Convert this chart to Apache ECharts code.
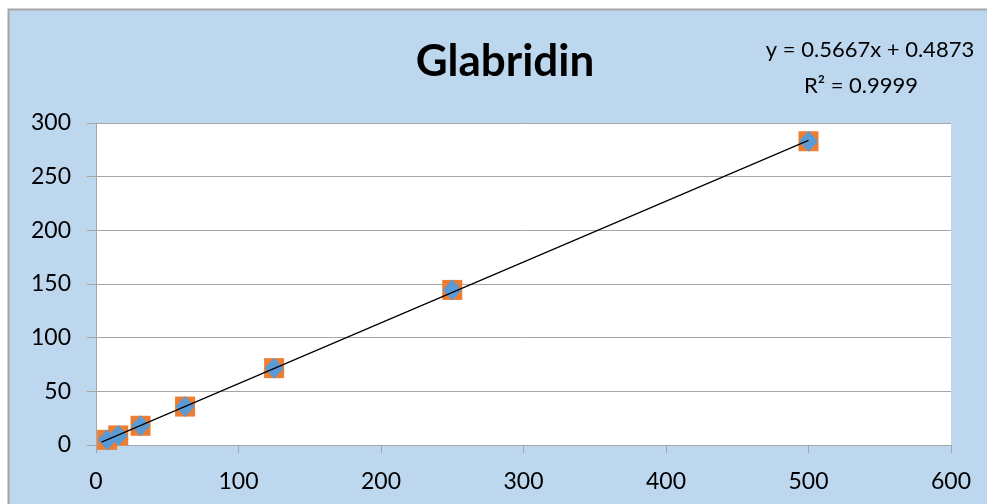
<!DOCTYPE html>
<html>
<head>
<meta charset="utf-8">
<script src="https://cdn.jsdelivr.net/npm/echarts@6/dist/echarts.min.js"></script>
<style>html,body{margin:0;padding:0;background:#fff}#c{width:987px;height:504px}</style>
</head>
<body>
<div id="c"></div>
<script>
const titleText = 'Glabridin';
const equationLines = ['y = 0.5667x + 0.4873', 'R² = 0.9999'];
const concX = [7.8125, 15.625, 31.25, 62.5, 125, 250, 500];
const areaY = [4.8, 8.9, 17.9, 35.8, 71.6, 144.5, 283];
const trendX = [3.9, 500];
const trendY = [2.7, 283.8];
const xTicks = [0, 100, 200, 300, 400, 500, 600];
const yTicks = [0, 50, 100, 150, 200, 250, 300];

const pts = concX.map((x, i) => [x, areaY[i]]);
const trend = trendX.map((x, i) => [x, trendY[i]]);
const FONT = 'Lato';

const chart = echarts.init(document.getElementById('c'), null, {renderer: 'canvas'});
chart.setOption({
  backgroundColor: '#ffffff',
  animation: false,
  textStyle: {fontFamily: FONT},
  graphic: [
    {type: 'rect', z: -10, shape: {x: 8.5, y: 9.5, width: 1100, height: 700},
     style: {fill: '#BDD7EE', stroke: '#A6A6A6', lineWidth: 2}},
    {type: 'text', x: 505, y: 62, z: 10,
     style: {text: titleText, font: 'bold 44px ' + FONT, fill: '#000', align: 'center', verticalAlign: 'middle'}},
    {type: 'text', x: 870, y: 50, z: 10,
     style: {text: equationLines[0], font: '22px ' + FONT, fill: '#000', align: 'center', verticalAlign: 'middle'}},
    {type: 'text', x: 861, y: 86, z: 10,
     style: {text: equationLines[1], font: '22px ' + FONT, fill: '#000', align: 'center', verticalAlign: 'middle'}}
  ],
  grid: {left: 96, right: 36, top: 123, bottom: 59, show: true, backgroundColor: '#ffffff', borderWidth: 0},
  xAxis: {
    type: 'value', min: xTicks[0], max: xTicks[xTicks.length - 1], interval: 100,
    axisLine: {show: true, lineStyle: {color: '#A6A6A6', width: 1}},
    axisTick: {show: true, length: 8, lineStyle: {color: '#A6A6A6'}},
    axisLabel: {margin: 25, fontSize: 23, color: '#000', fontFamily: FONT},
    splitLine: {show: false}
  },
  yAxis: {
    type: 'value', min: yTicks[0], max: yTicks[yTicks.length - 1], interval: 50,
    axisLine: {show: true, lineStyle: {color: '#A6A6A6', width: 1}},
    axisTick: {show: true, length: 9, lineStyle: {color: '#A6A6A6'}},
    axisLabel: {margin: 25, fontSize: 23, color: '#000', fontFamily: FONT},
    splitLine: {show: true, lineStyle: {color: '#A6A6A6', width: 1}}
  },
  series: [
    {type: 'scatter', data: pts, symbol: 'rect', symbolSize: 20,
     itemStyle: {color: '#ED7D31', opacity: 1}, z: 2},
    {type: 'scatter', data: pts, symbol: 'diamond', symbolSize: [19, 21],
     itemStyle: {color: '#5B9BD5', opacity: 1}, z: 3},
    {type: 'line', data: trend, symbol: 'none', z: 4,
     lineStyle: {color: '#000', width: 1.2}}
  ]
});
</script>
</body>
</html>
